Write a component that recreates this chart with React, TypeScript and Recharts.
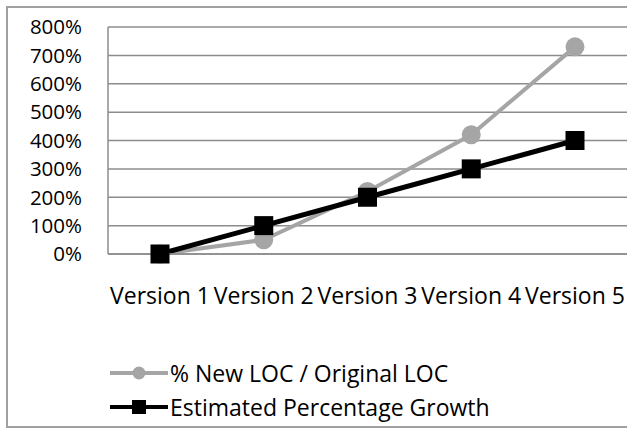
import { LineChart, Line, XAxis, YAxis, CartesianGrid, Legend } from 'recharts'

const versions = ['Version 1', 'Version 2', 'Version 3', 'Version 4', 'Version 5']
const newLocPct = [0, 50, 220, 420, 730]
const estimatedGrowth = [0, 100, 200, 300, 400]
const yTicks = [0, 100, 200, 300, 400, 500, 600, 700, 800]

const GREY = '#a5a5a5'
const GRID = '#8c8c8c'
const FONT = '"Open Sans", sans-serif'

const data = versions.map((v, i) => ({
  version: v,
  newLoc: newLocPct[i],
  estimated: estimatedGrowth[i],
}))

const SquareDot = (props: any) => {
  const { cx, cy, key } = props
  if (cx == null || cy == null) return null
  return <rect key={key} x={cx - 9.5} y={cy - 9.5} width={19} height={19} fill="#000" />
}

const LegendBox = () => (
  <div style={{ fontFamily: FONT, fontSize: 23, color: '#000', lineHeight: '34px' }}>
    <div style={{ display: 'flex', alignItems: 'center', height: 34 }}>
      <svg width={58} height={20} style={{ marginRight: 2 }}>
        <line x1={0} y1={10} x2={58} y2={10} stroke={GREY} strokeWidth={4} />
        <circle cx={29} cy={10} r={6.5} fill={GREY} />
      </svg>
      <span>% New LOC / Original LOC</span>
    </div>
    <div style={{ display: 'flex', alignItems: 'center', height: 34 }}>
      <svg width={58} height={20} style={{ marginRight: 2 }}>
        <line x1={0} y1={10} x2={58} y2={10} stroke="#000" strokeWidth={4} />
        <rect x={22} y={3} width={14} height={14} fill="#000" />
      </svg>
      <span>Estimated Percentage Growth</span>
    </div>
  </div>
)

export default function App() {
  return (
    <div
      style={{
        position: 'absolute',
        left: 0,
        top: 0,
        width: 627,
        height: 430,
        background: '#fff',
        overflow: 'hidden',
      }}
    >
      <div
        style={{
          position: 'absolute',
          left: 6,
          top: 6,
          width: 700,
          height: 418,
          border: '2px solid #a0a0a0',
        }}
      />
      <LineChart
        width={627}
        height={430}
        data={data}
        margin={{ top: 27, right: 0, bottom: 0, left: 0 }}
      >
        <CartesianGrid vertical={false} stroke={GRID} strokeWidth={1.5} />
        <XAxis
          dataKey="version"
          height={176}
          padding={{ left: 52, right: 52 }}
          tickLine={false}
          tickSize={0}
          tickMargin={34}
          axisLine={{ stroke: GRID, strokeWidth: 1.5 }}
          tick={{ fontFamily: FONT, fontSize: 23, fill: '#000' }}
          interval={0}
        />
        <YAxis
          width={108}
          domain={[0, 800]}
          ticks={yTicks}
          interval={0}
          tickFormatter={(v) => `${v}%`}
          tickLine={false}
          tickSize={0}
          tickMargin={26}
          axisLine={{ stroke: GRID, strokeWidth: 1.5 }}
          tick={{ fontFamily: FONT, fontSize: 20.5, fill: '#000' }}
        />
        <Line
          dataKey="newLoc"
          stroke={GREY}
          strokeWidth={4}
          dot={{ r: 9.5, fill: GREY, stroke: 'none' }}
          isAnimationActive={false}
        />
        <Line
          dataKey="estimated"
          stroke="#000"
          strokeWidth={5}
          dot={SquareDot}
          isAnimationActive={false}
        />
        <Legend
          layout="horizontal"
          verticalAlign="middle"
          align="center"
          content={LegendBox}
          wrapperStyle={{ left: 110, top: 356, width: 500, height: 70 }}
        />
      </LineChart>
    </div>
  )
}
